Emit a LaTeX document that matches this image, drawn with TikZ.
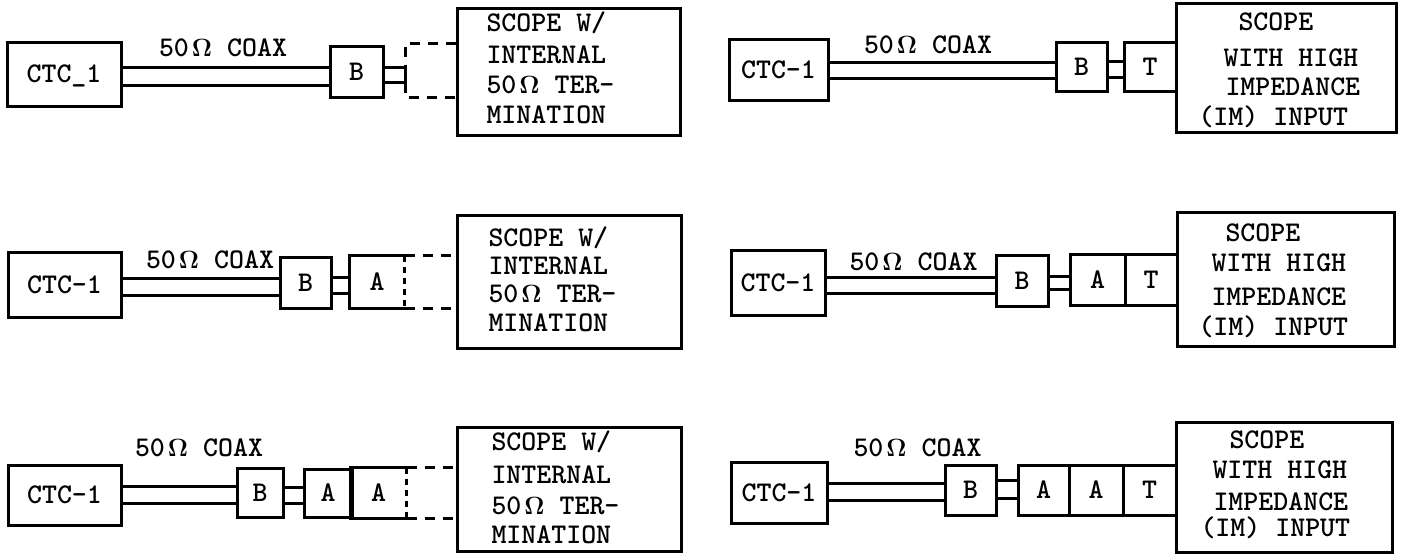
\documentclass[tikz,border=0pt]{standalone}
\usepackage{tikz}
\newcommand{\tw}{\fontsize{28.5}{30}\selectfont\ttfamily\bfseries}
\newcommand{\ohm}{\kern3pt$\mathbf{\Omega}$}
\tikzset{
  box/.style={draw, inner sep=0pt, font=\tw, text height=17.4pt, text depth=0pt},
  openbox/.style={box, draw=none},
  stext/.style={font=\tw, anchor=base west, inner sep=0pt},
  lbl/.style={font=\tw, inner sep=0pt, text height=17.4pt, text depth=0pt},
  wire/.style={},
  dsh/.style={dash pattern=on 10pt off 8pt},
}
\begin{document}
\begin{tikzpicture}[x=1pt, y=-1pt, line width=3pt]
\useasboundingbox (0,0) rectangle (1403,554);

% ---------------- Panel 1 (top left) ----------------
\node[box, minimum width=114, minimum height=64] (p1ctc) at (64,74) {CTC\_1};
\node[lbl] (p1lbl) at (223,48) {50\ohm\ COAX};
\node[box, minimum width=53, minimum height=51] (p1b) at (356.5,71.5) {B};
\node[box, minimum width=223, minimum height=127] (p1scope) at (568.5,71.5) {};
\coordinate (p1dt) at (405,43);
\coordinate (p1db) at (405,97);
\draw[wire] (p1ctc.east |- 0,67) -- (p1b.west |- 0,67);
\draw[wire] (p1ctc.east |- 0,85) -- (p1b.west |- 0,85);
\draw[wire] (p1b.east |- 0,67) -- (p1dt |- 0,67) -- (p1db |- 0,82) -- (p1b.east |- 0,82);
\draw[dsh] (p1scope.west |- p1dt) -- (p1dt) -- (p1db) -- (p1scope.west |- p1db);
\node[stext] (p1s1) at (485,31.5) {SCOPE W/};
\node[stext] (p1s2) at (485,63.5) {INTERNAL};
\node[stext] (p1s3) at (485,93.5) {50\ohm\ TER-};
\node[stext] (p1s4) at (485,123.5) {MINATION};

% ---------------- Panel 2 (top right) ----------------
\node[box, minimum width=99, minimum height=61] (p2ctc) at (778.5,69.5) {CTC-1};
\node[lbl] (p2lbl) at (928,45) {50\ohm\ COAX};
\node[box, minimum width=51, minimum height=49] (p2b) at (1081.5,66.5) {B};
\node[box, minimum width=52, minimum height=49] (p2t) at (1150,66.5) {T};
\node[box, minimum width=220, minimum height=129] (p2scope) at (1286,67.5) {};
\draw[wire] (p2ctc.east |- 0,62) -- (p2b.west |- 0,62);
\draw[wire] (p2ctc.east |- 0,78) -- (p2b.west |- 0,78);
\draw[wire] (p2b.east |- 0,61) -- (p2t.west |- 0,61);
\draw[wire] (p2b.east |- 0,77) -- (p2t.west |- 0,77);
\node[stext] (p2s1) at (1237,30.7) {SCOPE};
\node[stext] (p2s2) at (1222,66.7) {WITH HIGH};
\node[stext] (p2s3) at (1224,95.7) {IMPEDANCE};
\node[stext] (p2s4) at (1197,125.7) {(IM) INPUT};

% ---------------- Panel 3 (middle left) ----------------
\node[box, minimum width=113, minimum height=65] (p3ctc) at (64.5,284.5) {CTC-1};
\node[lbl] (p3lbl) at (210,260) {50\ohm\ COAX};
\node[box, minimum width=51, minimum height=51] (p3b) at (305.5,282.5) {B};
\node[openbox, minimum width=52, minimum height=50] (p3a) at (377,282) {A};
\node[box, minimum width=224, minimum height=133] (p3scope) at (569,281.5) {};
\draw[wire] (p3ctc.east |- 0,278) -- (p3b.west |- 0,278);
\draw[wire] (p3ctc.east |- 0,295) -- (p3b.west |- 0,295);
\draw[wire] (p3b.east |- 0,277) -- (p3a.west |- 0,277);
\draw[wire] (p3b.east |- 0,293) -- (p3a.west |- 0,293);
\draw[wire] (p3a.north east) -- (p3a.north west) -- (p3a.south west) -- (p3a.south east);
\draw[dsh, dash pattern=on 6pt off 5pt] (p3a.north east) -- (p3a.south east);
\draw[dsh] (p3a.north east) -- (p3scope.west |- p3a.north east);
\draw[dsh] (p3a.south east) -- (p3scope.west |- p3a.south east);
\node[stext] (p3s1) at (487,246.7) {SCOPE W/};
\node[stext] (p3s2) at (487,274.7) {INTERNAL};
\node[stext] (p3s3) at (487,302.7) {50\ohm\ TER-};
\node[stext] (p3s4) at (487,331.7) {MINATION};

% ---------------- Panel 4 (middle right) ----------------
\node[box, minimum width=94, minimum height=65] (p4ctc) at (778,282.5) {CTC-1};
\node[lbl] (p4lbl) at (913.5,262) {50\ohm\ COAX};
\node[box, minimum width=52, minimum height=51] (p4b) at (1022,280.5) {B};
\node[box, minimum width=55, minimum height=51] (p4a) at (1097.5,279.5) {A};
\node[box, minimum width=52, minimum height=51] (p4t) at (1151,279.5) {T};
\node[box, minimum width=217, minimum height=134] (p4scope) at (1285.5,279) {};
\draw[wire] (p4ctc.east |- 0,277) -- (p4b.west |- 0,277);
\draw[wire] (p4ctc.east |- 0,293) -- (p4b.west |- 0,293);
\draw[wire] (p4b.east |- 0,276) -- (p4a.west |- 0,276);
\draw[wire] (p4b.east |- 0,289) -- (p4a.west |- 0,289);
\node[stext] (p4s1) at (1224,241.7) {SCOPE};
\node[stext] (p4s2) at (1210,271.7) {WITH HIGH};
\node[stext] (p4s3) at (1210,305.7) {IMPEDANCE};
\node[stext] (p4s4) at (1197,335.7) {(IM) INPUT};

% ---------------- Panel 5 (bottom left) ----------------
\node[box, minimum width=113, minimum height=60] (p5ctc) at (64.5,495) {CTC-1};
\node[lbl] (p5lbl) at (199,448) {50\ohm\ COAX};
\node[box, minimum width=46, minimum height=49] (p5b) at (260,492.5) {B};
\node[box, minimum width=48, minimum height=48] (p5a1) at (328,493) {A};
\node[openbox, minimum width=53, minimum height=48] (p5a2) at (378.5,493) {A};
\node[box, minimum width=224, minimum height=124] (p5scope) at (569,489) {};
\draw[wire] (p5ctc.east |- 0,486) -- (p5b.west |- 0,486);
\draw[wire] (p5ctc.east |- 0,503) -- (p5b.west |- 0,503);
\draw[wire] (p5b.east |- 0,487) -- (p5a1.west |- 0,487);
\draw[wire] (p5b.east |- 0,503) -- (p5a1.west |- 0,503);
\draw[wire] (p5a2.north east) -- (p5a2.north west) -- (p5a2.south west) -- (p5a2.south east);
\draw[dsh, dash pattern=on 6pt off 5pt] (p5a2.north east) -- (p5a2.south east);
\draw[dsh] (p5a2.north east) -- (p5scope.west |- p5a2.north east);
\draw[dsh] (p5a2.south east) -- (p5scope.west |- p5a2.south east);
\node[stext] (p5s1) at (490,450.7) {SCOPE W/};
\node[stext] (p5s2) at (490,483.7) {INTERNAL};
\node[stext] (p5s3) at (490,514.7) {50\ohm\ TER-};
\node[stext] (p5s4) at (490,543.7) {MINATION};

% ---------------- Panel 6 (bottom right) ----------------
\node[box, minimum width=96, minimum height=61] (p6ctc) at (779,492.5) {CTC-1};
\node[lbl] (p6lbl) at (917.5,448) {50\ohm\ COAX};
\node[box, minimum width=51, minimum height=50] (p6b) at (970.5,490) {B};
\node[box, minimum width=51, minimum height=50] (p6a1) at (1043.5,490) {A};
\node[box, minimum width=54, minimum height=50] (p6a2) at (1096,490) {A};
\node[box, minimum width=53, minimum height=50] (p6t) at (1149.5,490) {T};
\node[box, minimum width=216, minimum height=130] (p6scope) at (1284,487) {};
\draw[wire] (p6ctc.east |- 0,483) -- (p6b.west |- 0,483);
\draw[wire] (p6ctc.east |- 0,500) -- (p6b.west |- 0,500);
\draw[wire] (p6b.east |- 0,480) -- (p6a1.west |- 0,480);
\draw[wire] (p6b.east |- 0,498) -- (p6a1.west |- 0,498);
\node[stext] (p6s1) at (1228,448.7) {SCOPE};
\node[stext] (p6s2) at (1211,478.7) {WITH HIGH};
\node[stext] (p6s3) at (1212,510.7) {IMPEDANCE};
\node[stext] (p6s4) at (1199,536.7) {(IM) INPUT};
\end{tikzpicture}
\end{document}
